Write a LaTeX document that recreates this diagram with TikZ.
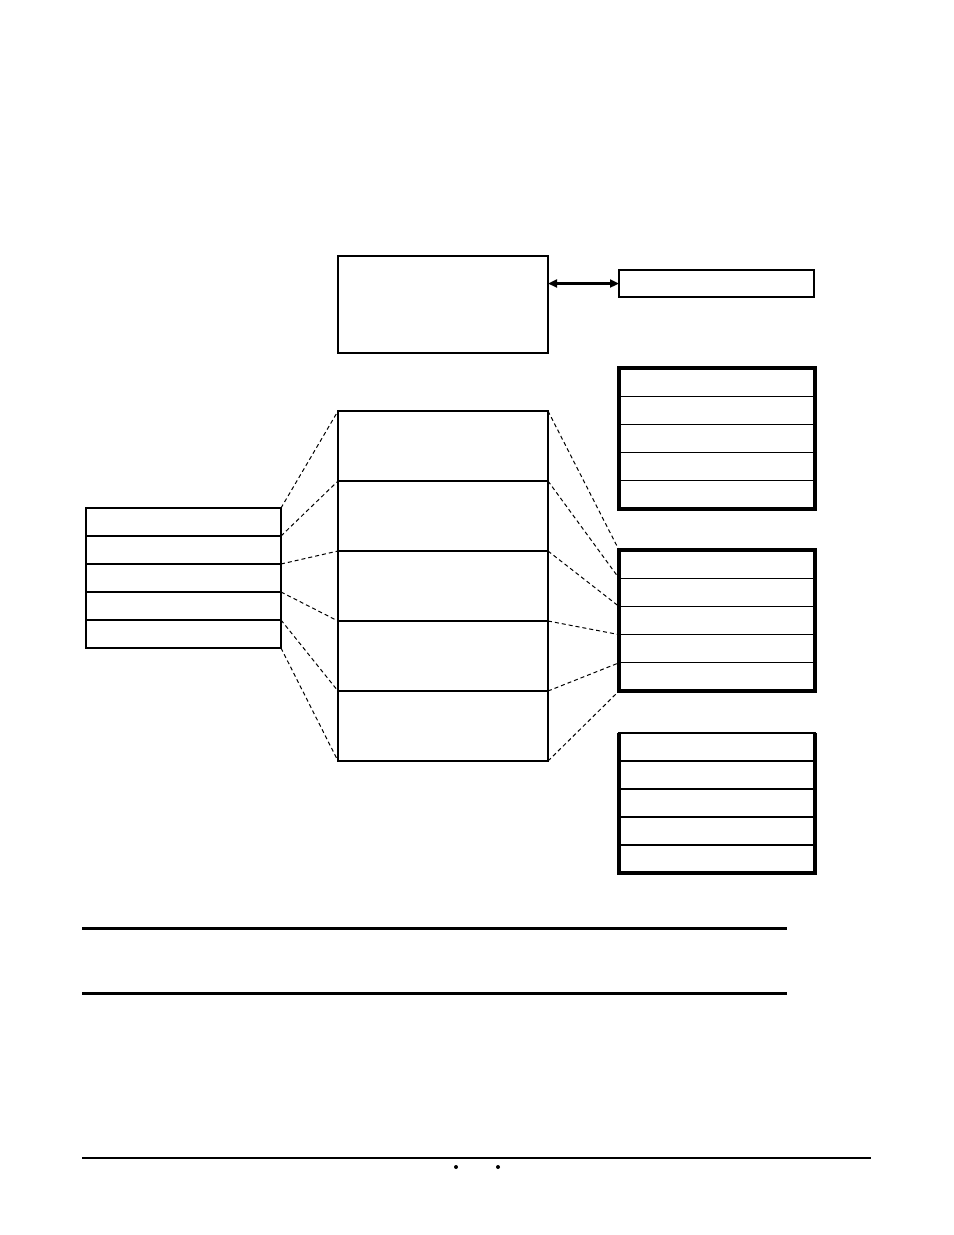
\documentclass[tikz,border=0pt]{standalone}
\usetikzlibrary{arrows.meta}
\begin{document}
\begin{tikzpicture}[x=1bp,y=-1bp,
  cellbox/.style={draw, line width=1.1bp, inner sep=0pt, outer sep=0pt, anchor=north west},
  midcell/.style={cellbox, minimum width=210bp, minimum height=70bp},
  leftcell/.style={cellbox, minimum width=195bp, minimum height=28bp},
  rightcell/.style={cellbox, minimum width=196bp, minimum height=28.2bp},
  heavy/.style={line width=4bp},
  link/.style={line width=1bp, dash pattern=on 4bp off 3bp},
  rule/.style={line width=3bp}]
\useasboundingbox (0,0) rectangle (954,1235);

% top box and tag box
\node[cellbox, minimum width=210bp, minimum height=97bp] (top) at (338,256) {};
\draw[line width=2bp] (top.south west) -- (top.south east);
\node[cellbox, minimum width=195bp, minimum height=27bp] (tag) at (619,270) {};
\draw[{Triangle[length=9bp,width=8bp]}-{Triangle[length=9bp,width=8bp]}, line width=2.2bp]
  (tag.west -| top.east) -- (tag.west);

% centre column
\foreach \i in {1,...,5} {
  \node[midcell] (c\i) at (338,{411+70*(\i-1)}) {};
}
% left column
\foreach \i in {1,...,5} {
  \node[leftcell] (l\i) at (86,{508+28*(\i-1)}) {};
}
% right groups
\foreach \i in {1,...,5} {
  \node[rightcell] (ra\i) at (619,{368+28.2*(\i-1)}) {};
  \node[rightcell] (rb\i) at (619,{550+28.2*(\i-1)}) {};
  \node[rightcell] (rc\i) at (619,{733+28*(\i-1)}) {};
}

% dashed links left
\draw[link] (l1.north east) -- (c1.north west);
\draw[link] (l1.south east) -- (c2.north west);
\draw[link] (l2.south east) -- (c3.north west);
\draw[link] (l3.south east) -- (c4.north west);
\draw[link] (l4.south east) -- (c5.north west);
\draw[link] (l5.south east) -- (c5.south west);
% dashed links right
\draw[link] (c1.north east) -- (rb1.north west);
\draw[link] (c2.north east) -- (rb1.south west);
\draw[link] (c3.north east) -- (rb2.south west);
\draw[link] (c4.north east) -- (rb3.south west);
\draw[link] (c5.north east) -- (rb4.south west);
\draw[link] (c5.south east) -- (rb5.south west);

% heavy frames
\draw[heavy] (ra1.north west) rectangle (ra5.south east);
\draw[heavy] (rb1.north west) rectangle (rb5.south east);
\draw[heavy] (rc1.north west) -- (rc5.south west) -- (rc5.south east) -- (rc1.north east);
\foreach \i in {2,3,4} {
  \draw[line width=2.2bp] (rc\i.south west) -- (rc\i.south east);
}

% bottom rules
\coordinate (ua) at (82,928);
\coordinate (ub) at (787,928);
\coordinate (va) at (82,993);
\coordinate (vb) at (787,993);
\draw[rule] (ua) -- (ub);
\draw[rule] (va) -- (vb);
\coordinate (fa) at (82,1158);
\coordinate (fb) at (871,1158);
\draw[line width=1.3bp] (fa) -- (fb);
\fill (456,1167) circle (2bp);
\fill (498,1167) circle (2bp);
\end{tikzpicture}
\end{document}
